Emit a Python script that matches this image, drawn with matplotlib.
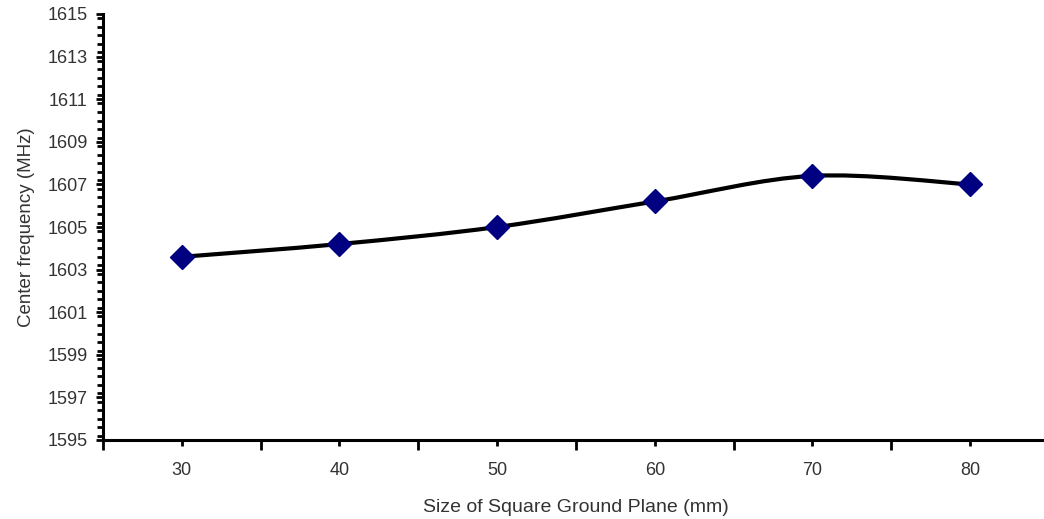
import matplotlib
matplotlib.use("Agg")
import matplotlib.pyplot as plt
from matplotlib.path import Path
from matplotlib.patches import PathPatch
from matplotlib.ticker import MultipleLocator, FixedLocator
import numpy as np

sizes = [30, 40, 50, 60, 70, 80]
freqs = [1603.6, 1604.2, 1605.0, 1606.2, 1607.4, 1607.0]
y_ticks = [1595, 1597, 1599, 1601, 1603, 1605, 1607, 1609, 1611, 1613, 1615]
x_label = "Size of Square Ground Plane (mm)"
y_label = "Center frequency (MHz)"

plt.rcParams['font.family'] = ['Liberation Sans', 'DejaVu Sans']

fig = plt.figure(figsize=(10.44, 5.19), dpi=100)
ax = fig.add_axes([103/1044, 1-440/519, (1049-103)/1044, (440-14)/519])

x = np.array(sizes, dtype=float)
y = np.array(freqs, dtype=float)

# Excel-like smoothed line (Catmull-Rom as cubic Bezier)
verts = [(x[0], y[0])]
codes = [Path.MOVETO]
n = len(x)
t = 1/6
for i in range(n-1):
    p0 = (x[i-1], y[i-1]) if i > 0 else (x[i], y[i])
    p1 = (x[i], y[i])
    p2 = (x[i+1], y[i+1])
    p3 = (x[i+2], y[i+2]) if i+2 < n else (x[i+1], y[i+1])
    c1 = (p1[0] + (p2[0]-p0[0])*t, p1[1] + (p2[1]-p0[1])*t)
    c2 = (p2[0] - (p3[0]-p1[0])*t, p2[1] - (p3[1]-p1[1])*t)
    verts += [c1, c2, p2]
    codes += [Path.CURVE4]*3
patch = PathPatch(Path(verts, codes), facecolor='none', edgecolor='black',
                  lw=3.0, capstyle='round', joinstyle='round', zorder=2)
ax.add_patch(patch)
ax.plot(x, y, linestyle='none', marker='D', markersize=12,
        markerfacecolor='#000080', markeredgecolor='#000080', zorder=3)

ax.set_xlim(25, 85)
ax.set_ylim(1595, 1615)
ax.set_yticks(y_ticks)
ax.yaxis.set_minor_locator(MultipleLocator(0.4))
ax.xaxis.set_major_locator(FixedLocator([25, 35, 45, 55, 65, 75, 85]))
ax.xaxis.set_minor_locator(FixedLocator(sizes))
ax.set_xticklabels([])
ax.set_xticks(sizes, [str(s) for s in sizes], minor=True)

for s in ['top', 'right']:
    ax.spines[s].set_visible(False)
for s in ['left', 'bottom']:
    ax.spines[s].set_linewidth(2.2)
    ax.spines[s].set_color('black')

ax.tick_params(axis='y', which='major', direction='out', length=5, width=2, labelsize=13,
               labelcolor='#333333', pad=6)
ax.tick_params(axis='y', which='minor', direction='out', length=4, width=2)
ax.tick_params(axis='x', which='major', direction='out', length=7, width=2, labelsize=13)
ax.tick_params(axis='x', which='minor', direction='out', length=4, width=2, labelsize=13,
               labelcolor='#333333', pad=12)

ax.set_xlabel(x_label, fontsize=14, color='#333333', labelpad=14)
ax.set_ylabel(y_label, fontsize=13.5, color='#333333', labelpad=9)

fig.savefig("out.png", dpi=100)
